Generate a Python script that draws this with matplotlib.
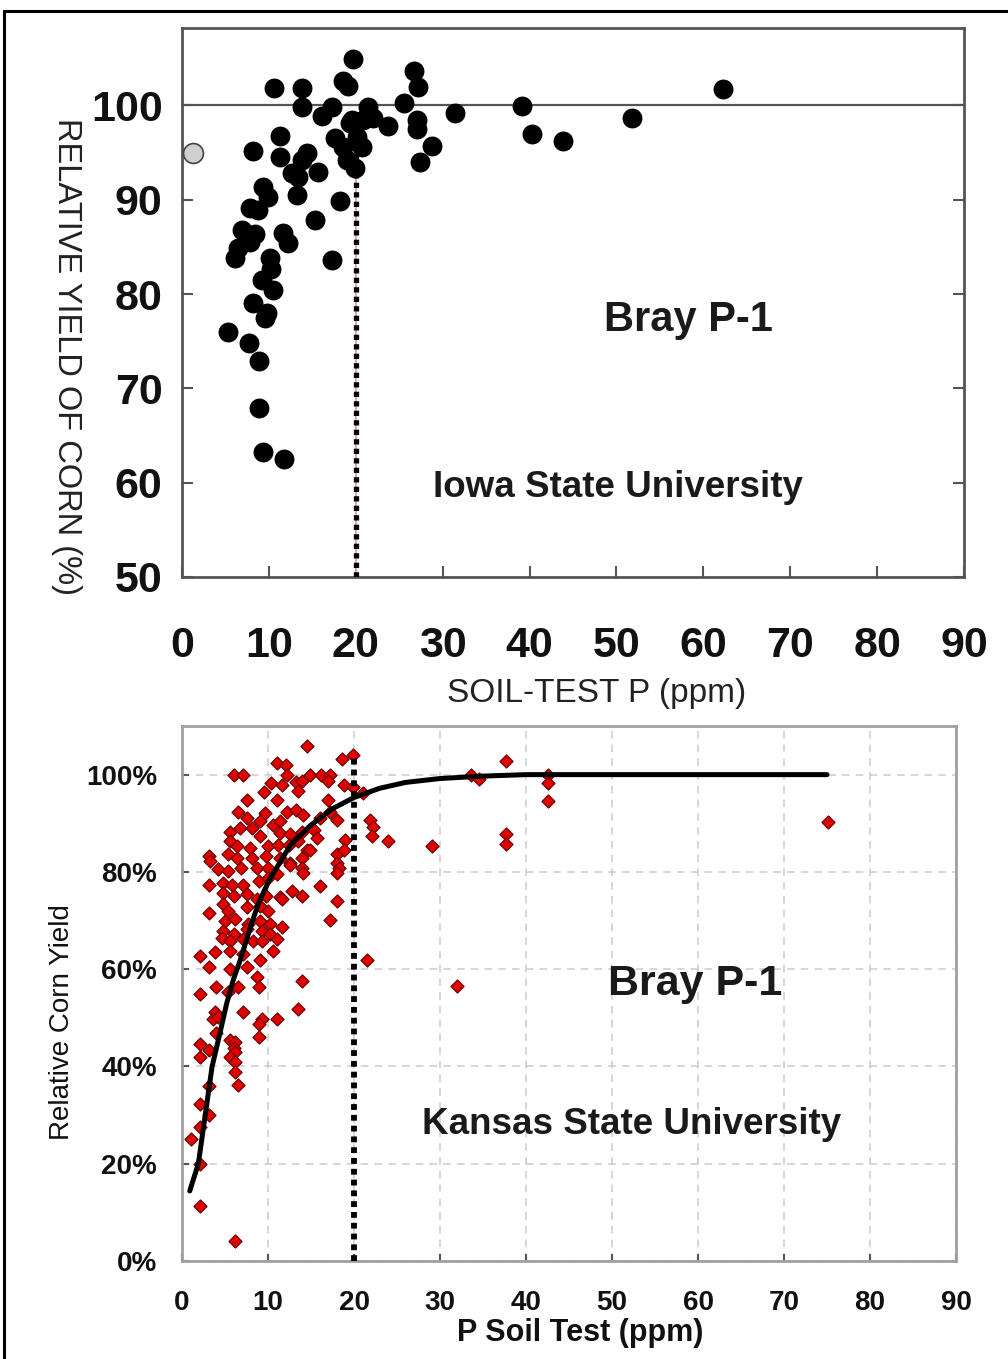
import matplotlib
matplotlib.use('Agg')
import matplotlib.pyplot as plt
from matplotlib.patches import Rectangle
from matplotlib.ticker import FuncFormatter

plt.rcParams['font.family'] = ['Liberation Sans', 'DejaVu Sans']

# --- Iowa State University (top panel) ---
iowa_p = [19.7, 10.6, 13.8, 18.5, 19.1, 26.7, 27.2, 13.8, 16.1, 17.3, 21.4, 22.0, 23.7, 25.5,
          31.4, 27.0, 27.0, 28.8, 27.4, 19.6, 17.6, 18.5, 20.1, 20.7, 19.0, 19.9, 19.3, 20.8,
          11.3, 8.2, 11.3, 14.4, 13.8, 15.6, 12.7, 13.3, 13.2, 18.2, 9.3, 9.9, 7.8, 8.7, 15.3,
          6.9, 8.4, 11.6, 12.2, 7.8, 6.4, 6.1, 17.3, 10.1, 10.3, 9.2, 10.5, 8.2, 9.8, 9.6, 5.3,
          7.7, 8.9, 8.9, 9.3, 11.7, 39.1, 40.3, 43.8, 51.8, 62.3]
iowa_yield = [104.9, 101.8, 101.8, 102.6, 102.1, 103.6, 101.9, 99.8, 98.9, 99.8, 99.8, 98.7, 97.8, 100.2,
              99.2, 98.4, 97.5, 95.7, 94.0, 98.4, 96.5, 95.6, 96.6, 95.6, 94.2, 93.4, 98.1, 98.4,
              96.8, 95.2, 94.5, 94.9, 94.2, 92.9, 92.8, 92.4, 90.5, 89.9, 91.3, 90.3, 89.1, 88.9, 87.8,
              86.8, 86.4, 86.5, 85.4, 85.5, 84.9, 83.8, 83.6, 83.8, 82.7, 81.5, 80.4, 79.1, 78.0, 77.5, 76.0,
              74.8, 72.9, 67.9, 63.2, 62.5, 99.9, 97.0, 96.2, 98.7, 101.7]
iowa_gray_p = [1.3]
iowa_gray_yield = [95.0]

# --- Kansas State University (bottom panel) ---
ks_p = [14.5, 19.9, 18.6, 6.1, 7.1, 11.1, 12.1, 12.2, 14.9, 16.2, 17.2, 10.4, 11.6, 13.3, 13.9,
        9.5, 13.5, 17.0, 18.8, 19.9, 21.1, 7.5, 11.0, 17.0, 6.5, 9.7, 12.2, 13.3, 14.1,
        7.5, 9.1, 10.6, 11.4, 16.0, 17.2, 18.0, 21.9, 22.2, 22.1, 24.0, 19.0,
        5.6, 6.7, 8.1, 9.1, 11.4, 12.6, 13.9, 15.3, 15.7, 5.6, 6.4, 7.9, 10.0, 11.2, 12.4, 13.5, 14.5,
        3.1, 3.3, 5.4, 6.4, 8.1, 9.8, 11.4, 12.6, 13.9, 14.9, 18.0, 18.8, 18.0, 18.2,
        4.2, 5.4, 6.9, 8.7, 10.0, 11.0, 12.6, 13.9, 18.0, 3.1, 4.8, 5.8, 7.1, 8.9, 10.0, 14.1, 16.0,
        4.8, 6.0, 7.5, 8.7, 9.8, 11.4, 12.8, 13.9, 4.8, 5.4, 7.5, 9.1, 10.0, 11.6, 18.0, 3.1,
        5.0, 6.2, 7.7, 9.1, 10.2, 17.2, 4.8, 6.0, 7.5, 9.3, 11.6, 10.2, 4.6, 5.6, 7.1, 8.3, 11.0, 9.3,
        2.1, 3.8, 5.6, 7.1, 9.1, 10.6, 3.1, 5.6, 7.5, 21.5, 13.9, 2.1, 4.0, 5.4, 6.5, 8.7, 8.9,
        13.5, 3.8, 3.6, 4.2, 7.1, 9.3, 8.9, 11.0, 4.0, 8.9, 2.1, 3.1, 2.1,
        5.6, 6.2, 6.0, 6.2, 5.6, 6.2, 6.2, 6.5, 3.1, 2.1, 3.1, 2.1, 1.1, 2.1, 2.1, 6.2,
        29.1, 33.6, 34.5, 37.7, 37.7, 37.7, 42.6, 42.6, 42.6, 75.1, 32.0]
ks_yield = [105.9, 104.0, 103.2, 99.9, 99.9, 102.3, 102.0, 100, 100, 100, 100, 98.2, 97.9, 98.4, 98.6,
            96.5, 96.7, 98.6, 97.9, 97.5, 96.2, 94.8, 94.8, 94.8, 92.4, 92.1, 92.4, 92.8, 91.8,
            91.1, 90.4, 89.7, 90.4, 91.1, 92.4, 90.7, 90.7, 89.2, 87.3, 86.3, 86.6,
            88.3, 89.0, 89.0, 87.3, 88.0, 87.7, 88.3, 88.7, 87.0, 86.3, 85.3, 84.9, 85.3, 85.6, 85.6, 86.3, 84.6,
            83.2, 82.2, 83.6, 82.9, 82.9, 83.2, 82.9, 81.9, 82.9, 84.6, 83.6, 84.6, 81.9, 80.9,
            80.5, 80.2, 80.9, 80.9, 80.9, 79.5, 81.5, 80.9, 79.8, 77.4, 77.8, 77.4, 77.4, 78.1, 78.8, 79.8, 77.1,
            75.7, 75.1, 75.4, 74.4, 75.1, 74.8, 76.1, 75.1, 73.4, 72.0, 72.7, 73.0, 72.0, 74.4, 74.0, 71.6,
            69.9, 70.3, 69.3, 69.9, 69.3, 70.1, 67.9, 67.2, 68.2, 67.9, 68.6, 67.2, 66.5, 65.8, 66.2, 65.8, 66.2, 65.8,
            62.8, 63.5, 63.8, 63.2, 61.8, 63.8, 60.4, 60.1, 60.4, 61.8, 57.5, 55.0, 56.3, 55.3, 56.3, 58.4, 56.3,
            51.9, 51.2, 49.8, 50.1, 51.1, 49.8, 48.8, 49.8, 46.8, 46.0, 44.6, 43.4, 42.0,
            45.4, 45.1, 43.7, 43.0, 42.0, 41.0, 38.9, 36.2, 36.0, 32.3, 30.1, 27.5, 25.1, 20.0, 11.3, 4.2,
            85.3, 100, 99.1, 102.8, 87.8, 85.8, 99.9, 98.2, 94.5, 90.2, 56.6]

# fitted response curve
curve_p = [0.9, 1.9, 2.7, 3.5, 4.3, 5.2, 6.0, 6.8, 8.1, 9.0, 10.2, 11.4, 12.6, 14.9, 17.5, 20,
           23, 26, 30, 35, 40, 50, 60, 75]
curve_yield = [14.4, 20, 30, 40, 46, 53, 58, 62, 69.5, 74, 78.5, 82, 85.5, 89.5, 93, 95.3,
               97.2, 98.4, 99.2, 99.7, 100, 100, 100, 100]

critical_p = 20

fig = plt.figure(figsize=(10.08, 13.59), dpi=100)
W, H = 1008, 1359

# ---------------- top panel ----------------
ax1 = fig.add_axes([182 / W, 1 - 577 / H, 782 / W, 549 / H])
ax1.axhline(100, color='#555555', lw=1.6, zorder=1)
ax1.plot([critical_p, critical_p], [50, 99.2], color='#e8a0a8', lw=1.4, zorder=2)
ax1.plot([critical_p, critical_p], [50, 99.2], color='black', lw=3.8,
         linestyle=(0, (1.0, 0.8)), zorder=3)
ax1.scatter(iowa_p, iowa_yield, s=205, color='black', zorder=4, linewidths=0)
ax1.scatter(iowa_gray_p, iowa_gray_yield, s=205, facecolor='#cfcfcf', edgecolor='#444444',
            linewidths=1.2, zorder=4, clip_on=False)
ax1.set_xlim(0, 90)
ax1.set_ylim(50, 108.2)
ax1.set_xticks(range(0, 91, 10))
ax1.set_yticks(range(50, 101, 10))
for s in ax1.spines.values():
    s.set_color('#555555')
    s.set_linewidth(2)
ax1.tick_params(axis='both', direction='in', length=8, width=1.5, color='#555555',
                labelsize=31, labelcolor='#111111')
ax1.tick_params(axis='y', right=True, pad=14)
ax1.tick_params(axis='x', pad=35)
for lab in ax1.get_xticklabels() + ax1.get_yticklabels():
    lab.set_fontweight('bold')

ax1.text(0.647, 0.468, 'Bray P-1', transform=ax1.transAxes, fontsize=30,
         fontweight='bold', ha='center', va='center', color='#1a1a1a')
ax1.text(0.558, 0.163, 'Iowa State University', transform=ax1.transAxes, fontsize=26.5,
         fontweight='bold', ha='center', va='center', color='#1a1a1a')

fig.text(66 / W, 1 - 356 / H, 'RELATIVE YIELD OF CORN (%)', rotation=270, fontsize=23.5,
         ha='center', va='center', color='#222222')
fig.text(597 / W, 1 - 693 / H, 'SOIL-TEST P (ppm)', fontsize=24, ha='center', va='center',
         color='#222222')

# ---------------- bottom panel ----------------
ax2 = fig.add_axes([182 / W, 1 - 1261 / H, 774 / W, 535 / H])
ax2.grid(True, color='#cccccc', linestyle=(0, (5, 4)), lw=1.1)
ax2.set_axisbelow(True)
ax2.scatter(ks_p, [v / 100 for v in ks_yield], marker='D', s=44, facecolor='#e00000',
            edgecolor='#700000', linewidths=0.9, zorder=3)
ax2.plot(curve_p, [v / 100 for v in curve_yield], color='black', lw=3.6, zorder=4,
         solid_capstyle='round')
ax2.plot([critical_p, critical_p], [0, 1.04], color='black', lw=4.2,
         linestyle=(0, (1, 0.85)), zorder=5)
ax2.set_xlim(0, 90)
ax2.set_ylim(0, 1.1)
ax2.set_xticks(range(0, 91, 10))
ax2.set_yticks([0, 0.2, 0.4, 0.6, 0.8, 1.0])
ax2.yaxis.set_major_formatter(FuncFormatter(lambda v, p: f'{v * 100:.0f}%'))
for s in ax2.spines.values():
    s.set_color('#a0a0a0')
    s.set_linewidth(2)
ax2.tick_params(axis='both', direction='in', length=5, width=1.5, color='#555555',
                labelsize=20, labelcolor='#111111')
ax2.tick_params(axis='y', pad=18)
ax2.tick_params(axis='x', pad=21)
for lab in ax2.get_xticklabels() + ax2.get_yticklabels():
    lab.set_fontweight('bold')

ax2.text(0.663, 0.518, 'Bray P-1', transform=ax2.transAxes, fontsize=31,
         fontweight='bold', ha='center', va='center', color='#1a1a1a')
ax2.text(0.581, 0.256, 'Kansas State University', transform=ax2.transAxes, fontsize=26.5,
         fontweight='bold', ha='center', va='center', color='#1a1a1a')

fig.text(62 / W, 1 - 1022 / H, 'Relative Corn Yield', rotation=90, fontsize=20,
         ha='center', va='center', color='#111111')
fig.text(580 / W, 1 - 1333 / H, 'P Soil Test (ppm)', fontsize=22, fontweight='bold',
         ha='center', va='center', color='#111111')

# outer frame
fig.patches.append(Rectangle((4 / W, -0.05), 1.2, 1 - 11 / H + 0.05, transform=fig.transFigure,
                             fill=False, edgecolor='black', lw=2.2))

fig.savefig('out.png', dpi=100)
